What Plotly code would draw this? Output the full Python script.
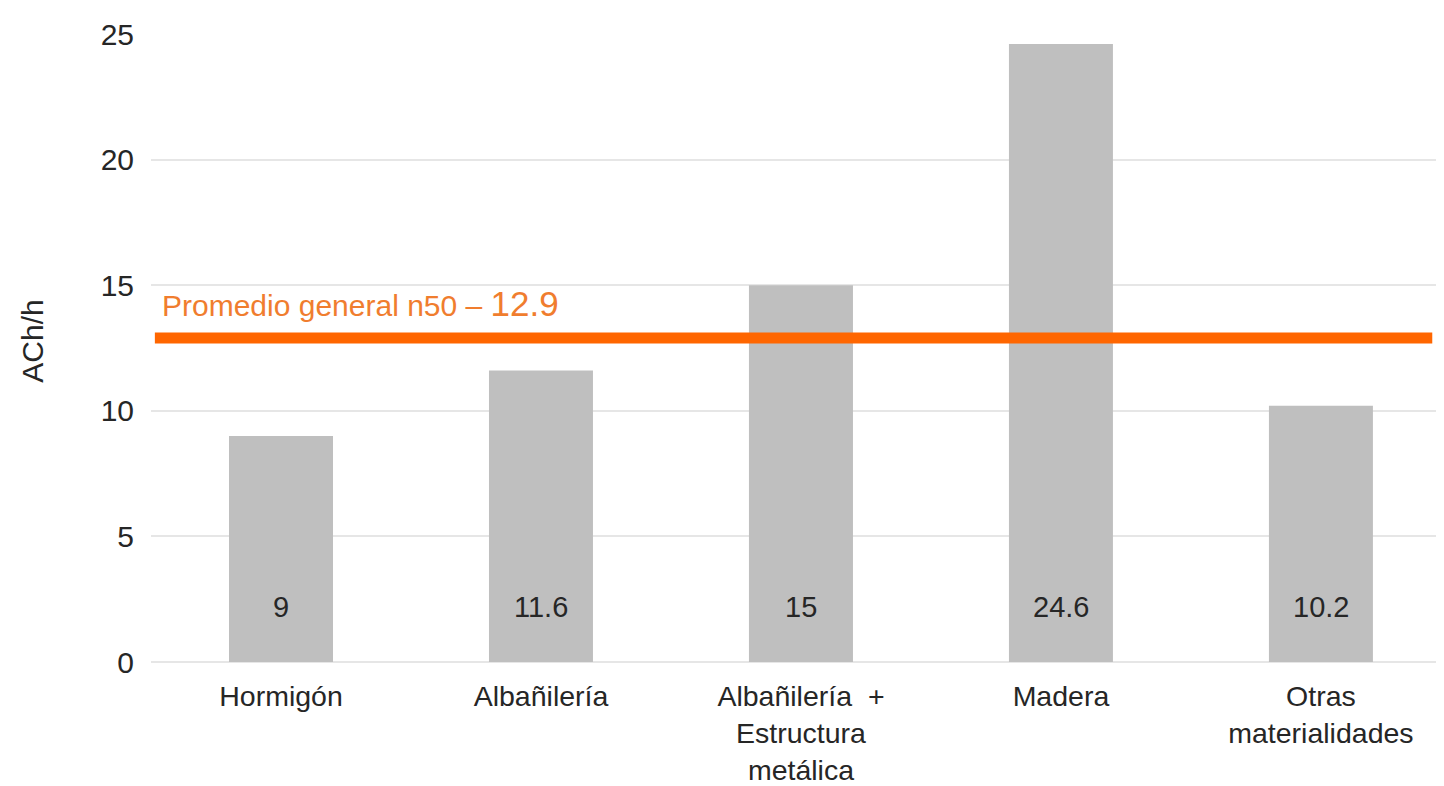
import plotly.graph_objects as go

categories = ["Hormigón", "Albañilería", "Albañilería  +<br>Estructura<br>metálica", "Madera", "Otras<br>materialidades"]
values = [9, 11.6, 15, 24.6, 10.2]
value_labels = ["9", "11.6", "15", "24.6", "10.2"]
promedio = 12.9
label_y = 2.2
y_ticks = [0, 5, 10, 15, 20, 25]

FONT = "Liberation Sans, Arial, sans-serif"
TXT = "#262626"
ORANGE = "#ff6600"

fig = go.Figure()
fig.add_trace(go.Bar(
    x=list(range(len(categories))), y=values,
    width=0.4, marker=dict(color="#bfbfbf", line=dict(width=0)),
    hoverinfo="skip", showlegend=False,
))

for i, (v, t) in enumerate(zip(values, value_labels)):
    fig.add_annotation(x=i, y=label_y, text=t, showarrow=False,
                       xanchor="center", yanchor="middle",
                       font=dict(family=FONT, size=29, color=TXT))

fig.add_shape(type="line", xref="paper", yref="y",
              x0=0.003, x1=0.994, y0=promedio, y1=promedio,
              line=dict(color=ORANGE, width=11))

fig.add_annotation(xref="paper", yref="y", x=0.007, y=promedio,
                   xanchor="left", yanchor="bottom", yshift=13,
                   text=f"Promedio general n50 – <span style='font-size:35px'>{promedio}</span>",
                   showarrow=False,
                   font=dict(family=FONT, size=30, color="#f07d2e"))

fig.add_annotation(xref="paper", yref="paper", x=0, y=0.51, xshift=-118,
                   xanchor="center", yanchor="middle", textangle=-90,
                   text="ACh/h", showarrow=False,
                   font=dict(family=FONT, size=30, color=TXT))

fig.update_layout(
    width=1436, height=778,
    margin=dict(l=143, r=4, t=26, b=124),
    paper_bgcolor="white", plot_bgcolor="white",
    font=dict(family=FONT, size=30, color=TXT),
    bargap=0.6,
)
fig.update_xaxes(
    tickmode="array", tickvals=list(range(len(categories))), ticktext=categories,
    range=[-0.5, 4.458], showgrid=False, zeroline=False, showline=False,
    ticks="", ticklabelstandoff=14, automargin=False,
    tickfont=dict(family=FONT, size=28.5, color=TXT),
)
fig.update_yaxes(
    range=[0, 25], tickvals=y_ticks, showgrid=True, gridcolor="#e6e6e6", gridwidth=2,
    zeroline=True, zerolinecolor="#e6e6e6", zerolinewidth=2, showline=False,
    ticks="", ticklabelstandoff=16, automargin=False,
    tickfont=dict(family=FONT, size=30, color=TXT),
)

fig.write_html("out.html")
